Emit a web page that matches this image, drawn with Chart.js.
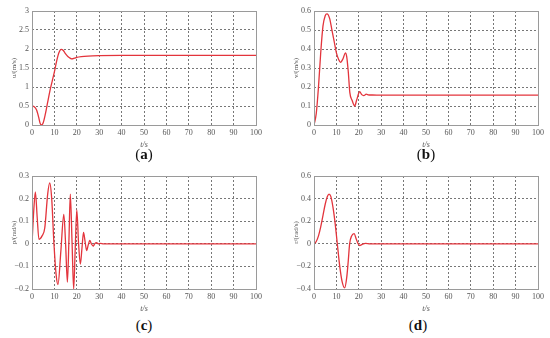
<!DOCTYPE html>
<html>
<head>
<meta charset="utf-8">
<script src="https://cdn.jsdelivr.net/npm/chart.js@4.4.1/dist/chart.umd.min.js"></script>
<style>
  body { margin: 0; width: 550px; height: 338px; background: #fff; position: relative; overflow: hidden; }
  canvas { position: absolute; }
  .lab { position: absolute; font-family: "Liberation Serif", serif; font-size: 15px; color: #111; transform: translateX(-50%); }
</style>
</head>
<body>
<canvas id="ca" style="left:0;top:0" width="275" height="150"></canvas>
<canvas id="cb" style="left:282px;top:0" width="268" height="150"></canvas>
<canvas id="cc" style="left:0;top:160px" width="275" height="154"></canvas>
<canvas id="cd" style="left:282px;top:160px" width="268" height="154"></canvas>
<div class="lab" style="left:144px;top:146px">(<b>a</b>)</div>
<div class="lab" style="left:426px;top:146px">(<b>b</b>)</div>
<div class="lab" style="left:144px;top:317px">(<b>c</b>)</div>
<div class="lab" style="left:418px;top:317px">(<b>d</b>)</div>
<script>
// (a) surge speed u
const tA = [0, 1, 2, 3, 3.6, 4.2, 5, 6, 7, 8, 9, 10, 11, 12, 13, 14, 15, 16, 17, 17.8, 19, 20, 22, 25, 30, 40, 100];
const uA = [0.5, 0.48, 0.4, 0.2, 0.05, 0, 0.06, 0.3, 0.6, 0.9, 1.15, 1.4, 1.68, 1.9, 1.99, 1.96, 1.87, 1.8, 1.76, 1.74, 1.76, 1.78, 1.8, 1.815, 1.825, 1.83, 1.83];

// (b) sway speed v
const tB = [0, 1, 2, 3, 4, 5, 5.8, 7, 8, 9, 10, 11, 11.8, 13, 14, 14.6, 15.3, 16, 17, 18.2, 19, 20.4, 21.3, 22.2, 23.3, 24.5, 26, 30, 100];
const vB = [0, 0.06, 0.2, 0.38, 0.52, 0.575, 0.585, 0.56, 0.5, 0.44, 0.38, 0.345, 0.33, 0.35, 0.38, 0.36, 0.28, 0.17, 0.13, 0.1, 0.13, 0.175, 0.16, 0.155, 0.162, 0.158, 0.158, 0.157, 0.157];

// (c) roll rate p
const tC = [0, 0.8, 1.5, 2.3, 3.1, 4.5, 5.7, 7, 7.9, 8.8, 9.8, 10.8, 11.6, 12.9, 14.2, 15, 15.8, 16.5, 17.1, 17.9, 18.6, 19.3, 20, 20.8, 21.6, 22.3, 23, 23.7, 24.4, 25.1, 25.8, 26.5, 27.3, 28, 28.8, 29.6, 30.5, 32, 35, 100];
const pC = [0, 0.15, 0.23, 0.12, 0.02, 0.035, 0.07, 0.22, 0.27, 0.2, 0, -0.14, -0.18, -0.03, 0.13, 0, -0.17, 0.02, 0.22, 0, -0.2, -0.02, 0.15, 0, -0.09, -0.02, 0.05, 0.01, -0.03, -0.005, 0.015, 0, -0.01, 0, 0.005, 0, 0.002, 0, 0, 0];

// (d) yaw rate r
const tD = [0, 1, 2, 3, 4, 5, 6, 6.7, 7.5, 8.5, 9.5, 10.4, 11.5, 12.5, 13.7, 14.6, 15.3, 15.9, 16.8, 17.9, 18.9, 19.7, 20.4, 21.5, 23, 25, 100];
const rD = [0, 0.02, 0.07, 0.15, 0.25, 0.35, 0.42, 0.44, 0.42, 0.32, 0.17, 0, -0.2, -0.33, -0.39, -0.3, -0.15, 0, 0.07, 0.09, 0.04, 0, -0.015, -0.005, 0.003, 0, 0];

const FONT = '"Liberation Serif", "DejaVu Serif", serif';

const framePlugin = {
    id: 'frame',
    afterDraw(chart) {
        const a = chart.chartArea;
        const c = chart.ctx;
        c.save();
        c.strokeStyle = '#9a9a9a';
        c.lineWidth = 1;
        c.strokeRect(a.left + 0.5, a.top + 0.5, a.right - a.left, a.bottom - a.top);
        c.restore();
    }
};

function gridColor(ctx) {
    const n = ctx.scale.ticks.length;
    if (ctx.index === 0 || ctx.index === n - 1) return 'rgba(0,0,0,0)';
    return '#555';
}

function makeChart(id, t, y, yMin, yMax, step, yTitle, pad) {
    const pts = t.map((x, i) => ({ x: x, y: y[i] }));
    return new Chart(document.getElementById(id), {
        type: 'line',
        data: {
            datasets: [{
                data: pts,
                borderColor: '#e3343c',
                borderWidth: 1.3,
                pointRadius: 0,
                fill: false,
                cubicInterpolationMode: 'monotone'
            }]
        },
        options: {
            responsive: false,
            animation: false,
            layout: { padding: pad },
            plugins: { legend: { display: false }, tooltip: { enabled: false } },
            scales: {
                x: {
                    type: 'linear', min: 0, max: 100,
                    afterFit: s => { s.height = 25; },
                    border: { display: false, dash: [2, 2] },
                    grid: { color: gridColor, lineWidth: 0.8, drawTicks: false },
                    ticks: { stepSize: 10, color: '#555', font: { family: FONT, size: 8 }, padding: 3, maxRotation: 0 },
                    title: { display: true, text: 't/s', color: '#555', font: { family: FONT, size: 8, style: 'italic' }, padding: 0 }
                },
                y: {
                    min: yMin, max: yMax,
                    afterFit: s => { s.width = 22; },
                    border: { display: false, dash: [2, 2] },
                    grid: { color: gridColor, lineWidth: 0.8, drawTicks: false },
                    ticks: {
                        stepSize: step, color: '#555', font: { family: FONT, size: 8 }, padding: 3,
                        callback: v => (Math.round(v * 1000) / 1000).toString().replace('-', '\u2212')
                    },
                    title: { display: true, text: yTitle, color: '#555', font: { family: FONT, size: 7 }, padding: 0 }
                }
            }
        },
        plugins: [framePlugin]
    });
}

makeChart('ca', tA, uA, 0, 3, 0.5, 'u/(m/s)', { left: 10, right: 19, top: 11, bottom: 0 });
makeChart('cb', tB, vB, 0, 0.6, 0.1, 'v/(m/s)', { left: 10, right: 12, top: 11, bottom: 0 });
makeChart('cc', tC, pC, -0.2, 0.3, 0.1, 'p/(rad/s)', { left: 10, right: 19, top: 16, bottom: 0 });
makeChart('cd', tD, rD, -0.4, 0.6, 0.2, 'r/(rad/s)', { left: 10, right: 12, top: 16, bottom: 0 });
</script>
</body>
</html>
